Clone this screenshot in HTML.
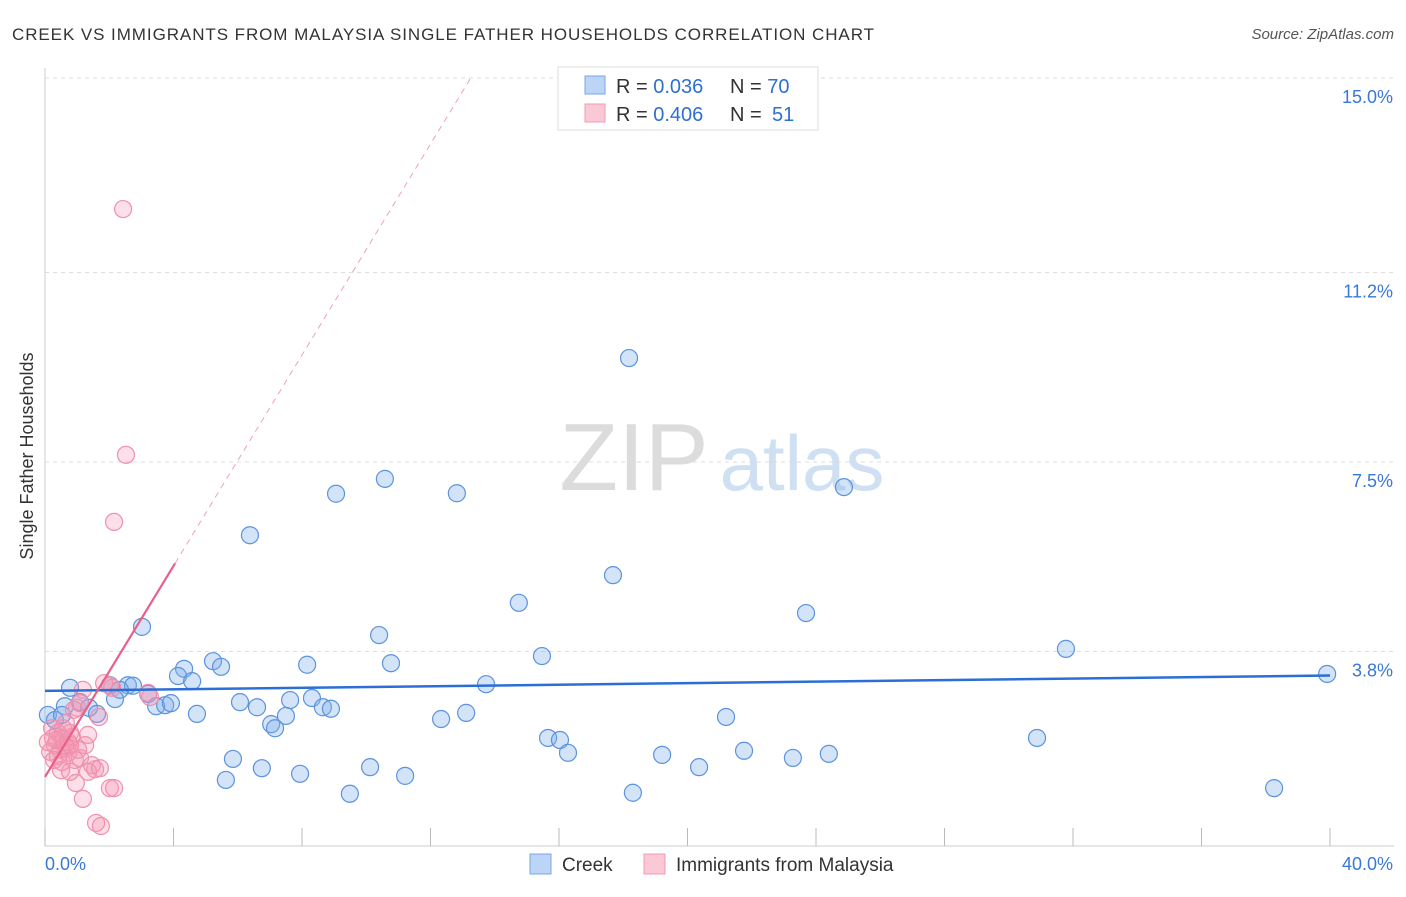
<!DOCTYPE html>
<html><head><meta charset="utf-8"><style>
body{margin:0;background:#fff;font-family:"Liberation Sans",sans-serif}
svg text{font-family:"Liberation Sans",sans-serif}
</style></head><body>
<svg id="c" width="1406" height="892">
<text x="12" y="40" font-size="17" fill="#333" textLength="862">CREEK VS IMMIGRANTS FROM MALAYSIA SINGLE FATHER HOUSEHOLDS CORRELATION CHART</text>
<text x="1394" y="39" font-size="15" fill="#555" font-style="italic" text-anchor="end">Source: ZipAtlas.com</text>
<text x="33" y="456" font-size="18" fill="#333" text-anchor="middle" transform="rotate(-90 33 456)">Single Father Households</text>
<g>
<text x="634" y="490" font-size="96" fill="#dcdcdc" font-family="Liberation Serif" text-anchor="middle">ZIP</text>
<text x="802" y="490" font-size="78" fill="#cfe0f3" text-anchor="middle">atlas</text>
</g>
<g id="grid"></g><g id="pts"></g><g id="trend"></g>
<g>
<rect x="558" y="67" width="260" height="63" fill="#fff" stroke="#ddd"/>
<rect x="585" y="76" width="20" height="18" fill="#bcd4f5" stroke="#7aa6e6"/>
<rect x="585" y="104" width="20" height="18" fill="#fbc8d6" stroke="#f09ab2"/>
<text x="616" y="93" font-size="20" fill="#333">R = <tspan fill="#2f6fd1">0.036</tspan><tspan x="730">N = </tspan><tspan fill="#2f6fd1">70</tspan></text>
<text x="616" y="121" font-size="20" fill="#333">R = <tspan fill="#2f6fd1">0.406</tspan><tspan x="730">N = </tspan><tspan fill="#2f6fd1" x="772">51</tspan></text>
</g>
<g>
<rect x="530" y="854" width="21" height="20" fill="#bcd4f5" stroke="#7aa6e6"/>
<text x="562" y="871" font-size="19" fill="#333">Creek</text>
<rect x="644" y="854" width="21" height="20" fill="#fbc8d6" stroke="#f09ab2"/>
<text x="676" y="871" font-size="19" fill="#333">Immigrants from Malaysia</text>
</g>
</svg>
<script>
const xTicks=[0,4,8,12,16,20,24,28,32,36,40];
const yTicks=[3.8,7.5,11.2,15.0];
const creekX=[18.18,10.58,9.06,12.82,24.87,6.38,17.68,14.75,23.69,10.40,3.02,31.78,15.47,10.77,8.16,5.23,5.48,4.33,4.14,4.58,13.73,39.91,0.78,2.02,2.58,2.74,2.33,3.21,2.18,7.63,8.31,6.07,6.60,3.46,3.74,3.92,8.65,8.90,1.37,1.62,4.73,7.50,13.11,12.33,21.20,7.04,7.16,0.09,0.31,0.62,1.09,15.66,16.03,16.28,30.88,19.21,21.76,24.40,23.28,5.85,6.75,10.12,20.36,7.94,11.21,5.63,9.49,18.30,38.26,0.53];
const creekY=[9.53,7.17,6.88,6.89,7.01,6.07,5.29,4.75,4.55,4.12,4.28,3.85,3.71,3.57,3.54,3.61,3.50,3.46,3.32,3.22,3.16,3.36,3.09,3.14,3.14,3.13,3.05,2.97,2.87,2.85,2.89,2.81,2.71,2.73,2.75,2.79,2.71,2.68,2.70,2.58,2.58,2.54,2.60,2.48,2.52,2.38,2.30,2.56,2.46,2.73,2.81,2.11,2.07,1.82,2.11,1.78,1.86,1.80,1.72,1.70,1.52,1.54,1.54,1.41,1.37,1.29,1.02,1.04,1.13,2.56];
const malX=[2.43,2.52,2.15,2.02,3.21,1.18,1.00,1.09,1.68,0.22,0.40,0.53,0.72,0.31,0.16,0.47,0.84,1.34,0.68,0.93,1.46,1.56,1.09,0.50,0.78,1.34,2.02,2.15,0.96,1.18,1.59,1.74,0.37,0.62,0.25,0.56,0.78,0.09,0.90,0.72,0.40,1.25,0.65,0.28,2.09,1.84,3.27,0.78,1.03,0.53,1.71];
const malY=[12.44,7.64,6.33,3.13,2.99,3.05,2.70,2.79,2.52,2.30,2.21,2.11,2.03,1.97,1.84,1.88,2.13,2.17,1.91,1.68,1.58,1.50,1.72,1.48,1.45,1.45,1.13,1.13,1.23,0.92,0.45,0.39,2.07,1.97,2.11,2.30,2.21,2.03,2.66,1.82,1.76,1.97,2.40,1.68,3.09,3.18,2.91,1.97,1.88,1.64,1.52];
const creekTrend=[3.03,3.33];
const malTrend=[1.35,1.03];
const X=v=>45+v*32.125, Y=v=>846-v*51.2;
const NS='http://www.w3.org/2000/svg';
function mk(p,t,a){const e=document.createElementNS(NS,t);for(const k in a)e.setAttribute(k,a[k]);p.appendChild(e);return e;}
const g=document.getElementById('grid');
let ax=mk(g,'line',{x1:45,y1:68,x2:45,y2:846,stroke:'#ccc'});


let bx=mk(g,'line',{x1:45,y1:846,x2:1394,y2:846,stroke:'#ccc'});


xTicks.forEach(t=>{const l=mk(g,'line',{x1:X(t),y1:828,x2:X(t),y2:846,stroke:'#bbb'});

});
yTicks.forEach(t=>{const l=mk(g,'line',{x1:45,y1:Y(t),x2:1394,y2:Y(t),stroke:'#ddd','stroke-dasharray':'4,4'});


const tx=mk(g,'text',{x:1393,y:Y(t)+25,'font-size':18,fill:'#3a78d6','text-anchor':'end'});tx.textContent=t.toFixed(1)+'%';

});
const x0=mk(g,'text',{x:45,y:870,'font-size':18,fill:'#3a78d6'});x0.textContent=xTicks[0].toFixed(1)+'%';


const x1=mk(g,'text',{x:1393,y:870,'font-size':18,fill:'#3a78d6','text-anchor':'end'});x1.textContent=xTicks[xTicks.length-1].toFixed(1)+'%';


const P=document.getElementById('pts');
creekX.forEach((v,i)=>{const c=mk(P,'circle',{cx:X(v),cy:Y(creekY[i]),r:8.5,fill:'rgba(130,175,235,0.35)',stroke:'#5b93de','stroke-width':1.2});

});
malX.forEach((v,i)=>{const c=mk(P,'circle',{cx:X(v),cy:Y(malY[i]),r:8.5,fill:'rgba(245,150,180,0.3)',stroke:'#ef90ac','stroke-width':1.2});

});
const T=document.getElementById('trend');
let bl=mk(T,'line',{x1:X(0),y1:Y(creekTrend[0]),x2:X(40),y2:Y(creekTrend[1]),stroke:'#2b6fd6','stroke-width':2.5});


const mY=x=>malTrend[0]+malTrend[1]*x;
let pl=mk(T,'line',{x1:X(0),y1:Y(mY(0)),x2:X(4.05),y2:Y(mY(4.05)),stroke:'#e8608a','stroke-width':2.2});


let pd=mk(T,'line',{x1:X(4.05),y1:Y(mY(4.05)),x2:X(13.3),y2:Y(mY(13.3)),stroke:'#f0a0b8','stroke-width':1,'stroke-dasharray':'6,5'});


</script>
</body></html>
